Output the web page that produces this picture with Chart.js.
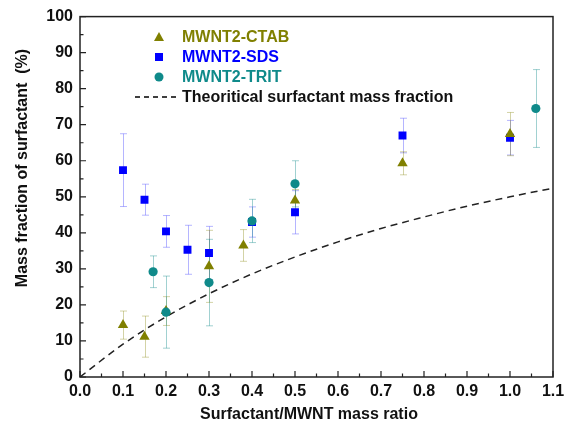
<!DOCTYPE html>
<html>
<head>
<meta charset="utf-8">
<script src="https://cdn.jsdelivr.net/npm/chart.js@4"></script>
<style>
  html, body { margin: 0; padding: 0; background: #fff; }
  #wrap { width: 572px; height: 435px; }
</style>
</head>
<body>
<div id="wrap"><canvas id="massChart" width="572" height="435"></canvas></div>
<script>
// values
const ctabX = [0.1, 0.15, 0.2, 0.3, 0.38, 0.5, 0.75, 1.0];
const ctabY = [14.4, 11.2, 18.3, 30.7, 36.5, 49.0, 59.3, 67.4];
const ctabErr = [3.9, 5.7, 4.0, 10.0, 4.4, 3.0, 3.2, 6.0];

const sdsX = [0.1, 0.15, 0.2, 0.25, 0.3, 0.4, 0.5, 0.75, 1.0];
const sdsY = [57.4, 49.2, 40.4, 35.3, 34.4, 43.0, 45.7, 67.0, 66.4];
const sdsErr = [10.1, 4.3, 4.4, 6.8, 7.4, 4.2, 6.0, 4.8, 4.8];

const tritX = [0.17, 0.2, 0.3, 0.4, 0.5, 1.06];
const tritY = [29.2, 18.0, 26.2, 43.3, 53.6, 74.5];
const tritErr = [4.4, 10.0, 12.0, 6.0, 6.4, 10.8];

const theoX = [0, 0.1, 0.2, 0.3, 0.4, 0.5, 0.6, 0.7, 0.8, 0.9, 1.0, 1.1];
const theoY = [0, 9.1, 16.7, 23.1, 28.6, 33.3, 37.5, 41.2, 44.4, 47.4, 50.0, 52.4];

const xTicks = [0, 0.1, 0.2, 0.3, 0.4, 0.5, 0.6, 0.7, 0.8, 0.9, 1.0, 1.1];
const yTicks = [0, 10, 20, 30, 40, 50, 60, 70, 80, 90, 100];

const labels = ['MWNT2-CTAB', 'MWNT2-SDS', 'MWNT2-TRIT', 'Theoritical surfactant mass fraction'];
const xTitle = 'Surfactant/MWNT mass ratio';
const yTitle = 'Mass fraction of surfactant  (%)';

function pts(xs, ys) {
  return xs.map((x, i) => ({ x: x, y: ys[i] }));
}

const FONT = 'Liberation Sans, Arial, sans-serif';

// error bars, axis ticks, frame, legend and titles
const decor = {
  id: 'decor',
  beforeDatasetsDraw(chart) {
    const ctx = chart.ctx;
    const xs = chart.scales.x, ys = chart.scales.y;
    ctx.save();
    ctx.lineWidth = 1;
    chart.data.datasets.forEach((ds) => {
      if (!ds.err) return;
      ctx.strokeStyle = ds.errColor;
      ds.data.forEach((p, i) => {
        const px = Math.round(xs.getPixelForValue(p.x)) + 0.5;
        const top = ys.getPixelForValue(p.y + ds.err[i]);
        const bot = ys.getPixelForValue(p.y - ds.err[i]);
        ctx.beginPath();
        ctx.moveTo(px, top); ctx.lineTo(px, bot);
        ctx.moveTo(px - 3.5, top); ctx.lineTo(px + 3.5, top);
        ctx.moveTo(px - 3.5, bot); ctx.lineTo(px + 3.5, bot);
        ctx.stroke();
      });
    });
    ctx.restore();
  },
  afterDraw(chart) {
    const ctx = chart.ctx;
    const a = chart.chartArea;
    const xs = chart.scales.x, ys = chart.scales.y;
    ctx.save();
    // frame
    ctx.strokeStyle = '#222';
    ctx.lineWidth = 1.5;
    ctx.strokeRect(a.left, a.top, a.right - a.left, a.bottom - a.top);
    // inward ticks
    ctx.lineWidth = 1.2;
    ctx.beginPath();
    for (let v = 0; v <= 1.1001; v += 0.05) {
      const px = xs.getPixelForValue(v);
      const major = Math.abs(v * 10 - Math.round(v * 10)) < 0.01;
      ctx.moveTo(px, a.bottom);
      ctx.lineTo(px, a.bottom - (major ? 6 : 3.5));
    }
    for (let v = 0; v <= 100; v += 5) {
      const py = ys.getPixelForValue(v);
      ctx.moveTo(a.left, py);
      ctx.lineTo(a.left + (v % 10 === 0 ? 6 : 3.5), py);
    }
    ctx.stroke();

    // legend
    const styles = [
      { shape: 'triangle', color: '#808000' },
      { shape: 'rect', color: '#0000ff' },
      { shape: 'circle', color: '#0f8a8a' },
      { shape: 'dash', color: '#000' }
    ];
    const rowY = [37, 57, 77, 97];
    ctx.font = 'bold 16px ' + FONT;
    ctx.textBaseline = 'middle';
    ctx.textAlign = 'left';
    styles.forEach((s, i) => {
      const y = rowY[i];
      const mx = 159;
      ctx.fillStyle = s.color;
      ctx.strokeStyle = s.color;
      if (s.shape === 'triangle') {
        ctx.beginPath();
        ctx.moveTo(mx, y - 5); ctx.lineTo(mx + 5, y + 4); ctx.lineTo(mx - 5, y + 4);
        ctx.closePath(); ctx.fill();
      } else if (s.shape === 'rect') {
        ctx.fillRect(mx - 4, y - 4, 8, 8);
      } else if (s.shape === 'circle') {
        ctx.beginPath(); ctx.arc(mx, y, 4.5, 0, Math.PI * 2); ctx.fill();
      } else {
        ctx.lineWidth = 1.3;
        ctx.setLineDash([5, 4]);
        ctx.beginPath(); ctx.moveTo(135, y); ctx.lineTo(176, y); ctx.stroke();
        ctx.setLineDash([]);
      }
      ctx.fillStyle = s.color === '#000' ? '#111' : s.color;
      ctx.fillText(labels[i], 182, y + 1);
    });

    // axis titles
    ctx.fillStyle = '#111';
    ctx.font = 'bold 16px ' + FONT;
    ctx.textAlign = 'center';
    ctx.fillText(xTitle, 309, 415);
    ctx.translate(23, 168);
    ctx.rotate(-Math.PI / 2);
    ctx.fillText(yTitle, 0, 0);
    ctx.restore();
  }
};

const errA = 'rgba(128,128,0,0.35)';

new Chart(document.getElementById('massChart'), {
  type: 'scatter',
  data: {
    datasets: [
      {
        type: 'line',
        label: labels[3],
        data: pts(theoX, theoY),
        borderColor: '#222',
        borderWidth: 1.5,
        borderDash: [7, 5],
        pointRadius: 0,
        cubicInterpolationMode: 'monotone',
        fill: false,
        order: 4
      },
      {
        label: labels[1],
        data: pts(sdsX, sdsY),
        err: sdsErr,
        errColor: 'rgba(90,90,255,0.45)',
        pointStyle: 'rect',
        pointRadius: 5.6,
        backgroundColor: '#0000ff',
        borderColor: '#0000ff',
        borderWidth: 0,
        order: 3
      },
      {
        label: labels[0],
        data: pts(ctabX, ctabY),
        err: ctabErr,
        errColor: errA,
        pointStyle: 'triangle',
        pointRadius: 6,
        backgroundColor: '#808000',
        borderColor: '#808000',
        borderWidth: 0,
        order: 2
      },
      {
        label: labels[2],
        data: pts(tritX, tritY),
        err: tritErr,
        errColor: 'rgba(20,140,140,0.4)',
        pointStyle: 'circle',
        pointRadius: 4.6,
        backgroundColor: '#0f8a8a',
        borderColor: '#0f8a8a',
        borderWidth: 0,
        order: 1
      }
    ]
  },
  options: {
    responsive: false,
    animation: false,
    layout: { padding: { top: 15, right: 19, left: 0, bottom: 0 } },
    plugins: { legend: { display: false }, tooltip: { enabled: false } },
    scales: {
      x: {
        type: 'linear',
        min: 0, max: 1.1,
        afterBuildTicks: (s) => { s.ticks = xTicks.map(v => ({ value: v })); },
        afterFit: (s) => { s.height = 58; },
        grid: { display: false, drawTicks: false, tickLength: 0 },
        border: { display: false },
        ticks: {
          color: '#111',
          font: { family: FONT, size: 16, weight: 'bold' },
          padding: 5,
          maxRotation: 0,
          callback: (v) => v.toFixed(1)
        }
      },
      y: {
        type: 'linear',
        min: 0, max: 100,
        afterBuildTicks: (s) => { s.ticks = yTicks.map(v => ({ value: v })); },
        afterFit: (s) => { s.width = 80; },
        grid: { display: false, drawTicks: false, tickLength: 0 },
        border: { display: false },
        ticks: {
          color: '#111',
          font: { family: FONT, size: 16, weight: 'bold' },
          padding: 7
        }
      }
    }
  },
  plugins: [decor]
});
</script>
</body>
</html>
